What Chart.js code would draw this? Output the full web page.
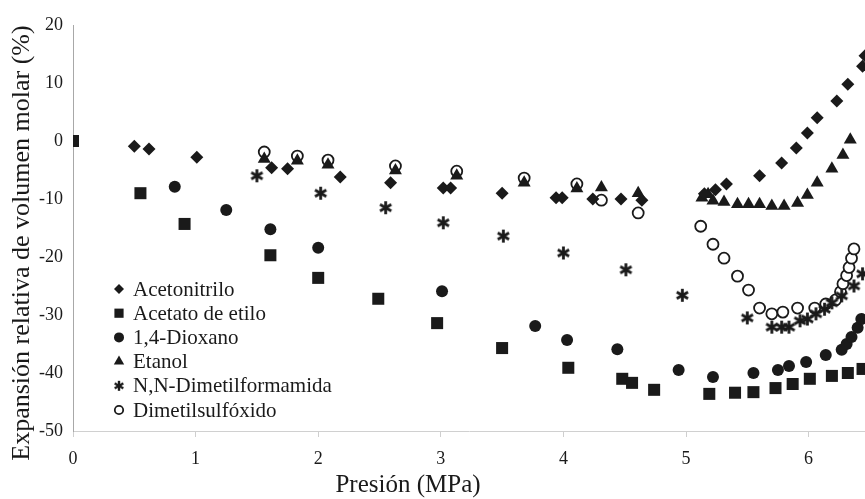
<!DOCTYPE html>
<html>
<head>
<meta charset="utf-8">
<script src="https://cdn.jsdelivr.net/npm/chart.js@4.4.1/dist/chart.umd.min.js"></script>
<style>
  html, body { margin: 0; padding: 0; background: #fff; }
  #wrap { width: 865px; height: 499px; }
</style>
</head>
<body>
<div id="wrap"><canvas id="myChart"></canvas></div>
<script>
'use strict'

/* Datos : presion (MPa) y expansion relativa (%) */

const acetonitriloX = [0.50, 0.62, 1.01, 1.62, 1.75, 2.18, 2.59, 3.02, 3.08, 3.50, 3.94, 3.99, 4.24, 4.47, 4.64, 5.15, 5.24, 5.33, 5.60, 5.78, 5.90, 5.99, 6.07, 6.23, 6.32, 6.44, 6.46];
const acetonitriloY = [-0.9, -1.4, -2.8, -4.6, -4.8, -6.2, -7.2, -8.1, -8.1, -9.0, -9.8, -9.8, -10.0, -10.0, -10.2, -9.1, -8.4, -7.4, -6.0, -3.8, -1.2, 1.4, 4.0, 6.9, 9.8, 12.9, 14.7];

const acetatoX = [0.0, 0.55, 0.91, 1.61, 2.00, 2.49, 2.97, 3.50, 4.04, 4.48, 4.56, 4.74, 5.19, 5.40, 5.55, 5.73, 5.87, 6.01, 6.19, 6.32, 6.44];
const acetatoY = [0, -9.0, -14.3, -19.7, -23.6, -27.2, -31.4, -35.7, -39.1, -41.0, -41.7, -42.9, -43.6, -43.4, -43.3, -42.6, -41.9, -41.0, -40.5, -40.0, -39.3];

const dioxanoX = [0.83, 1.25, 1.61, 2.00, 3.01, 3.77, 4.03, 4.44, 4.94, 5.22, 5.55, 5.75, 5.84, 5.98, 6.14, 6.27, 6.31, 6.35, 6.40, 6.43];
const dioxanoY = [-7.9, -11.9, -15.2, -18.4, -25.9, -31.9, -34.3, -35.9, -39.5, -40.7, -40.0, -39.5, -38.8, -38.1, -36.9, -36.0, -35.0, -33.8, -32.2, -30.7];

const etanolX = [1.56, 1.83, 2.08, 2.63, 3.13, 3.68, 4.11, 4.31, 4.61, 5.13, 5.18, 5.22, 5.31, 5.42, 5.51, 5.60, 5.70, 5.80, 5.91, 5.99, 6.07, 6.19, 6.28, 6.34];
const etanolY = [-3.1, -3.4, -4.1, -5.1, -6.0, -7.2, -8.2, -8.0, -9.0, -9.8, -9.2, -10.3, -10.5, -10.9, -10.9, -10.9, -11.2, -11.2, -10.7, -9.3, -7.2, -4.8, -2.4, 0.2];

const dmfX = [1.50, 2.02, 2.55, 3.02, 3.51, 4.00, 4.51, 4.97, 5.50, 5.70, 5.78, 5.84, 5.93, 5.99, 6.06, 6.13, 6.19, 6.27, 6.37, 6.44];
const dmfY = [-6.0, -9.0, -11.5, -14.1, -16.4, -19.3, -22.2, -26.6, -30.5, -32.1, -32.1, -32.1, -31.0, -30.7, -29.8, -29.0, -27.9, -26.7, -25.0, -22.9];

const dmsoX = [1.56, 1.83, 2.08, 2.63, 3.13, 3.68, 4.11, 4.31, 4.61, 5.12, 5.22, 5.31, 5.42, 5.51, 5.60, 5.70, 5.79, 5.91, 6.05, 6.14, 6.22, 6.26, 6.28, 6.31, 6.33, 6.35, 6.37];
const dmsoY = [-1.9, -2.6, -3.3, -4.3, -5.2, -6.4, -7.4, -10.2, -12.4, -14.7, -17.8, -20.2, -23.3, -25.7, -28.8, -29.8, -29.5, -28.8, -28.8, -28.1, -27.4, -26.0, -24.6, -23.2, -21.8, -20.2, -18.6];

const seriesNames = ['Acetonitrilo', 'Acetato de etilo', '1,4-Dioxano', 'Etanol', 'N,N-Dimetilformamida', 'Dimetilsulfóxido'];
const xTicks = [0, 1, 2, 3, 4, 5, 6];
const yTicks = [20, 10, 0, -10, -20, -30, -40, -50];
const xTitle = 'Presión (MPa)';
const yTitle = 'Expansión relativa de volumen molar (%)';

const FONT = '"Liberation Serif", "DejaVu Serif", serif';
const INK = '#1a1a1a';

function pares(xs, ys) {
  const out = [];
  for (let i = 0; i < xs.length; i++) out.push({x: xs[i], y: ys[i]});
  return out;
}

// asterisco de 6 brazos para la DMF
function asterisco(size, lw) {
  const c = document.createElement('canvas');
  c.width = size; c.height = size;
  const g = c.getContext('2d');
  const m = size / 2, r = size / 2 - 1;
  g.strokeStyle = INK;
  g.lineWidth = lw;
  g.lineCap = 'butt';
  for (let k = 0; k < 3; k++) {
    const a = Math.PI / 2 + k * Math.PI / 3;
    g.beginPath();
    g.moveTo(m + Math.cos(a) * r, m + Math.sin(a) * r);
    g.lineTo(m - Math.cos(a) * r, m - Math.sin(a) * r);
    g.stroke();
  }
  return c;
}

const starBig = asterisco(15, 2.8);
const starSmall = asterisco(12, 2.4);

const datasets = [
  {label: seriesNames[0], data: pares(acetonitriloX, acetonitriloY), pointStyle: 'rectRot', pointRadius: 6.5, backgroundColor: INK, borderColor: INK, borderWidth: 0, legendR: 5},
  {label: seriesNames[1], data: pares(acetatoX, acetatoY), pointStyle: 'rect', pointRadius: 8.5, backgroundColor: INK, borderColor: INK, borderWidth: 0, legendR: 6.5},
  {label: seriesNames[2], data: pares(dioxanoX, dioxanoY), pointStyle: 'circle', pointRadius: 6, backgroundColor: INK, borderColor: INK, borderWidth: 0, legendR: 5},
  {label: seriesNames[3], data: pares(etanolX, etanolY), pointStyle: 'triangle', pointRadius: 7.5, backgroundColor: INK, borderColor: INK, borderWidth: 0, legendR: 6},
  {label: seriesNames[4], data: pares(dmfX, dmfY), pointStyle: starBig, legendStyle: starSmall, pointRadius: 7, backgroundColor: INK, borderColor: INK, borderWidth: 0},
  {label: seriesNames[5], data: pares(dmsoX, dmsoY), pointStyle: 'circle', pointRadius: 5.5, backgroundColor: '#fff', borderColor: INK, borderWidth: 1.8, legendR: 4.2}
];

// leyenda dibujada dentro del area del grafico, como en el original
const leyenda = {
  id: 'leyenda',
  afterDraw(chart) {
    const ctx = chart.ctx;
    ctx.save();
    ctx.font = '21px ' + FONT;
    ctx.textBaseline = 'middle';
    ctx.textAlign = 'left';
    chart.data.datasets.forEach((ds, i) => {
      const y = 289 + i * 24.2;
      if (ds.legendStyle) {
        ctx.drawImage(ds.legendStyle, 119 - ds.legendStyle.width / 2, y - ds.legendStyle.height / 2);
      } else {
        ctx.fillStyle = ds.backgroundColor;
        ctx.strokeStyle = ds.borderColor;
        ctx.lineWidth = ds.borderWidth;
        Chart.helpers.drawPoint(ctx, {
          pointStyle: ds.pointStyle, radius: ds.legendR, rotation: 0,
          borderWidth: ds.borderWidth
        }, 119, y);
      }
      ctx.fillStyle = INK;
      ctx.fillText(ds.label, 133, y + 1);
    });

    // titulos de los ejes
    ctx.font = '25px ' + FONT;
    ctx.textAlign = 'center';
    ctx.fillText(xTitle, 408, 485);
    ctx.translate(22, 243);
    ctx.rotate(-Math.PI / 2);
    ctx.font = '26px ' + FONT;
    ctx.fillText(yTitle, 0, 0);
    ctx.restore();
  }
};

const ctx1 = document.getElementById('myChart');

new Chart(ctx1, {
  type: 'scatter',
  data: { datasets: datasets },
  options: {
    responsive: true,
    maintainAspectRatio: false,
    animation: false,
    layout: { autoPadding: false, padding: { top: 25, left: 0, right: 0, bottom: 0 } },
    plugins: {
      legend: { display: false },
      tooltip: { enabled: false }
    },
    scales: {
      x: {
        type: 'linear',
        min: 0,
        max: 6.46,
        afterBuildTicks: (s) => { s.ticks = xTicks.map(v => ({value: v})); },
        afterFit: (s) => { s.height = 68; },
        grid: { drawOnChartArea: false, color: '#cfcfcf', tickLength: 6 },
        border: { color: '#d0d0d0', dash: [6, 3] },
        ticks: { color: INK, font: { family: FONT, size: 18 }, padding: 11, maxRotation: 0 }
      },
      y: {
        type: 'linear',
        min: -50,
        max: 20,
        afterBuildTicks: (s) => { s.ticks = yTicks.map(v => ({value: v})); },
        afterFit: (s) => { s.width = 73; },
        grid: { display: false, drawTicks: false },
        border: { color: '#a8a8a8', width: 1 },
        ticks: { color: INK, font: { family: FONT, size: 18 }, padding: 10 }
      }
    }
  },
  plugins: [leyenda]
});
</script>
</body>
</html>
